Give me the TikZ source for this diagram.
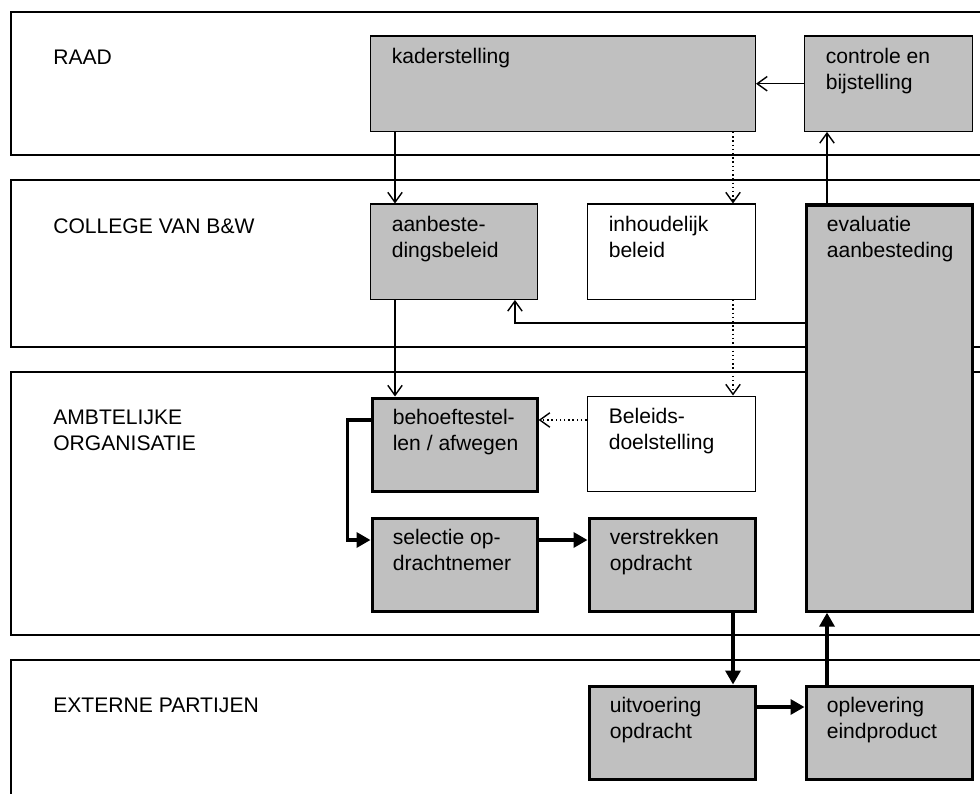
\documentclass[tikz,border=0pt]{standalone}
\usepackage{fontspec}
\setmainfont{Liberation Sans}
\usepackage{tikz}
\usetikzlibrary{arrows.meta,calc}
\definecolor{boxgray}{RGB}{192,192,192}

\begin{document}
\begin{tikzpicture}[x=0.025cm, y=-0.025cm,
  font=\fontsize{15}{18.5}\selectfont,
  lane/.style={draw, line width=1.2pt, anchor=north west, inner sep=0pt, minimum width=24.75cm},
  lanetext/.style={anchor=north west, align=left, inner sep=0pt, xshift=1.075cm, yshift=-0.975cm},
  stage/.style={draw, line width=1pt, fill=boxgray, anchor=north west, inner sep=0pt,
    minimum width=4.2cm, minimum height=2.375cm},
  bold stage/.style={stage, line width=2.2pt, minimum width=4.15cm, minimum height=2.325cm},
  open stage/.style={stage, fill=white},
  stagetext/.style={anchor=north west, align=left, inner sep=0pt, xshift=0.55cm, yshift=-0.32cm},
  flow/.style={line width=1pt, -{Straight Barb[length=0.25cm, width=0.36cm]}},
  infoflow/.style={flow, dotted},
  mainflow/.style={line width=2.4pt, -{Triangle[length=0.35cm, width=0.375cm]}}]
\useasboundingbox (0,0) rectangle (980,794);
\clip (0,0) rectangle (980,794);

% Lanes
\node[lane, minimum height=3.575cm, label={[lanetext]north west:RAAD}] (raad) at (10,11) {};
\node[lane, minimum height=4.175cm, label={[lanetext]north west:COLLEGE VAN B\&W}] (college) at (10,179) {};
\node[lane, minimum height=6.575cm, label={[lanetext]north west:{AMBTELIJKE\\ORGANISATIE}}] (ambt) at (10,371) {};
\node[lane, minimum height=3.6cm, label={[lanetext]north west:EXTERNE PARTIJEN}] (extern) at (10,659) {};

% Raad
\node[stage, minimum width=9.625cm, label={[stagetext]north west:kaderstelling}] (kader) at (369.5,35.5) {};
\node[stage, label={[stagetext]north west:{controle en\\bijstelling}}] (controle) at (803.5,35.5) {};

% College van B&W
\node[stage, minimum width=4.175cm, label={[stagetext]north west:{aanbeste-\\dingsbeleid}}] (aanbest) at (369.5,203.5) {};
\node[open stage, label={[stagetext]north west:{inhoudelijk\\beleid}}] (inhoud) at (586.5,203.5) {};
\node[bold stage, minimum height=10.15cm, label={[stagetext]north west:{evaluatie\\aanbesteding}}] (evaluatie) at (804.5,203.5) {};

% Ambtelijke organisatie
\node[bold stage, minimum width=4.125cm, label={[stagetext]north west:{behoeftestel-\\len / afwegen}}] (behoefte) at (370.5,396.5) {};
\node[open stage, label={[stagetext]north west:{Beleids-\\doelstelling}}] (beleid) at (586.5,395.5) {};
\node[bold stage, minimum width=4.125cm, label={[stagetext]north west:{selectie op-\\drachtnemer}}] (selectie) at (370.5,516.5) {};
\node[bold stage, label={[stagetext]north west:{verstrekken\\opdracht}}] (verstrek) at (587.5,516.5) {};

% Externe partijen
\node[bold stage, label={[stagetext]north west:{uitvoering\\opdracht}}] (uitvoer) at (587.5,684.5) {};
\node[bold stage, label={[stagetext]north west:{oplevering\\eindproduct}}] (oplever) at (804.5,684.5) {};

% Connectors
\draw[flow] (controle.west) -- (kader.east);
\draw[flow] ($(kader.south west)+(25.5,0)$) coordinate (k1) -- (k1 |- aanbest.north);
\draw[infoflow] ($(kader.south east)+(-23,0)$) coordinate (k2) -- (k2 |- inhoud.north);
\draw[flow] ($(evaluatie.north west)+(22.5,0)$) coordinate (e1) -- (e1 |- controle.south);
\draw[flow] ($(evaluatie.north west)+(0,119.5)$) -| ($(aanbest.south east)+(-23,0)$);
\draw[flow] (k1 |- aanbest.south) -- (k1 |- behoefte.north);
\draw[infoflow] (k2 |- inhoud.south) -- (k2 |- beleid.north);
\draw[infoflow] ($(beleid.north west)+(0,24.5)$) coordinate (b1) -- (b1 -| behoefte.east);
\draw[mainflow] ($(behoefte.north west)+(0,23.5)$) -- ++(-23,0) |- ($(selectie.north west)+(0,23.5)$);
\draw[mainflow] ($(selectie.north east)+(0,23.5)$) coordinate (s1) -- (s1 -| verstrek.west);
\draw[mainflow] (k2 |- verstrek.south) -- (k2 |- uitvoer.north);
\draw[mainflow] ($(uitvoer.north east)+(0,22.5)$) coordinate (u1) -- (u1 -| oplever.west);
\draw[mainflow] (e1 |- oplever.north) -- (e1 |- evaluatie.south);
\end{tikzpicture}
\end{document}
